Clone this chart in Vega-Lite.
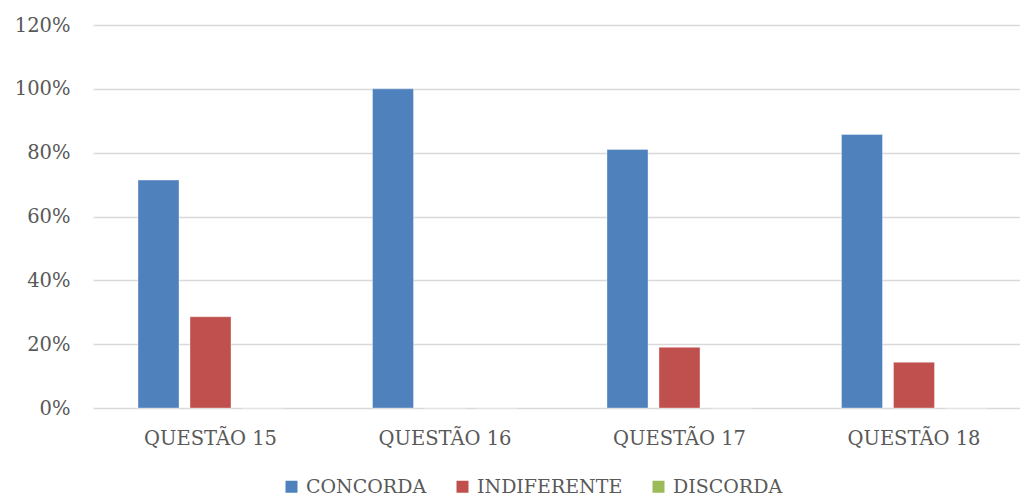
{
  "$schema": "https://vega.github.io/schema/vega-lite/v6.json",
  "autosize": {"type": "none"},
  "width": 927,
  "height": 383,
  "padding": {"left": 93, "top": 25, "right": 0, "bottom": 91},
  "background": "white",
  "data": {"values": [
    {"q": "QUESTÃO 15", "r": "CONCORDA", "v": 0.714},
    {"q": "QUESTÃO 15", "r": "INDIFERENTE", "v": 0.286},
    {"q": "QUESTÃO 15", "r": "DISCORDA", "v": 0},
    {"q": "QUESTÃO 16", "r": "CONCORDA", "v": 1.0},
    {"q": "QUESTÃO 16", "r": "INDIFERENTE", "v": 0},
    {"q": "QUESTÃO 16", "r": "DISCORDA", "v": 0},
    {"q": "QUESTÃO 17", "r": "CONCORDA", "v": 0.81},
    {"q": "QUESTÃO 17", "r": "INDIFERENTE", "v": 0.19},
    {"q": "QUESTÃO 17", "r": "DISCORDA", "v": 0},
    {"q": "QUESTÃO 18", "r": "CONCORDA", "v": 0.857},
    {"q": "QUESTÃO 18", "r": "INDIFERENTE", "v": 0.143},
    {"q": "QUESTÃO 18", "r": "DISCORDA", "v": 0}
  ]},
  "mark": {"type": "bar", "strokeWidth": 1, "strokeOpacity": 0.35, "stroke": "white"},
  "encoding": {
    "x": {
      "field": "q", "type": "nominal", "sort": null,
      "scale": {"paddingInner": 0.3348, "paddingOuter": 0.144, "align": 0.585},
      "axis": {"title": null, "labelAngle": 0, "ticks": false, "domain": false, "labelFont": "DejaVu Serif", "labelFontSize": 19.5, "labelColor": "#595959", "labelPadding": 21}
    },
    "xOffset": {
      "field": "r", "type": "nominal",
      "scale": {"domain": ["CONCORDA", "INDIFERENTE", "DISCORDA"], "paddingInner": 0.2115, "paddingOuter": 0.1058}
    },
    "y": {
      "field": "v", "type": "quantitative",
      "scale": {"domain": [0, 1.2], "nice": false},
      "axis": {"title": null, "format": ".0%", "values": [0, 0.2, 0.4, 0.6, 0.8, 1.0, 1.2], "ticks": false, "domain": false, "gridColor": "#D9D9D9", "gridWidth": 1.5, "labelFont": "DejaVu Serif", "labelFontSize": 19.5, "labelColor": "#595959", "labelPadding": 23}
    },
    "color": {
      "field": "r", "type": "nominal",
      "scale": {"domain": ["CONCORDA", "INDIFERENTE", "DISCORDA"], "range": ["#4F81BD", "#C0504D", "#9BBB59"]},
      "legend": {
        "title": null, "orient": "none", "direction": "horizontal", "legendX": 189, "legendY": 452,
        "padding": 0, "symbolType": "square", "symbolSize": 144, "symbolStrokeWidth": 0,
        "labelFont": "DejaVu Serif", "labelFontSize": 19, "labelColor": "#595959", "labelOffset": 5, "columnPadding": 26
      }
    }
  },
  "config": {"view": {"stroke": null}}
}
